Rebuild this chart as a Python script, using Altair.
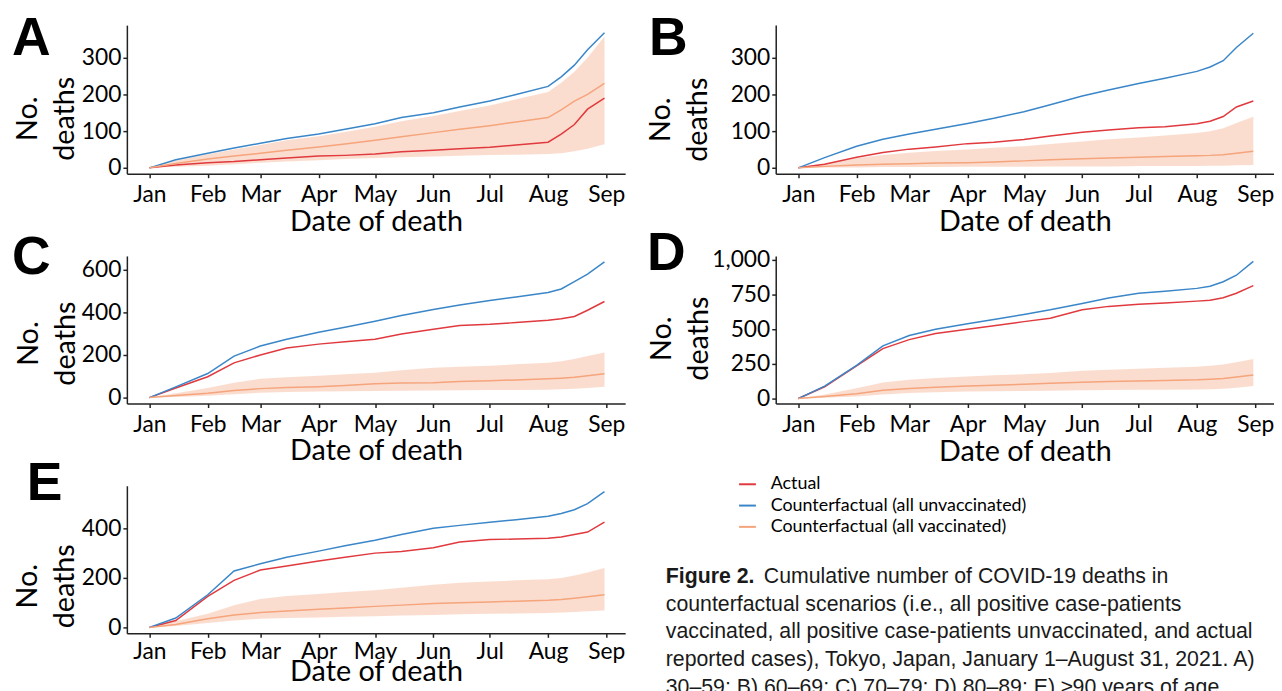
import altair as alt
import pandas as pd

# ---------------- data ----------------
dates = ["2021-01-01", "2021-01-15", "2021-02-01", "2021-02-15", "2021-03-01",
         "2021-03-15", "2021-04-01", "2021-04-15", "2021-05-01", "2021-05-15",
         "2021-06-01", "2021-06-15", "2021-07-01", "2021-07-15", "2021-08-01",
         "2021-08-08", "2021-08-15", "2021-08-22", "2021-08-31"]

series_names = ["Actual", "Counterfactual (all unvaccinated)", "Counterfactual (all vaccinated)"]
series_colors = ["#e0393e", "#3a86c8", "#f5a47c"]

# Panel A (30-59)
a_unvacc = [0, 22, 40, 54, 67, 80, 92, 105, 120, 137, 150, 166, 182, 200, 222, 248, 280, 322, 368]
a_actual = [0, 8, 14, 17, 22, 27, 32, 34, 38, 44, 48, 52, 56, 62, 70, 92, 118, 160, 190]
a_vacc = [0, 12, 24, 32, 40, 48, 57, 65, 75, 85, 96, 105, 115, 125, 137, 158, 182, 200, 230]
a_lo = [0, 3, 6, 10, 14, 17, 21, 24, 27, 29, 31, 33, 35, 36, 38, 40, 45, 52, 64]
a_hi = [0, 20, 37, 50, 62, 75, 86, 98, 112, 127, 141, 155, 170, 187, 207, 232, 262, 300, 358]

# Panel B (60-69)
b_unvacc = [0, 28, 59, 78, 92, 105, 121, 135, 153, 172, 196, 212, 230, 244, 263, 275, 292, 328, 367]
b_actual = [0, 10, 29, 42, 51, 57, 66, 70, 77, 87, 97, 103, 109, 112, 120, 127, 140, 166, 182]
b_vacc = [0, 4, 8, 10, 11, 13, 14, 16, 19, 22, 25, 27, 29, 31, 33, 34, 36, 40, 45]
b_lo = [0, 1, 1, 2, 2, 2, 3, 3, 3, 4, 4, 4, 5, 5, 5, 6, 6, 7, 8]
b_hi = [0, 12, 27, 35, 41, 46, 50, 55, 59, 65, 72, 78, 83, 88, 95, 100, 108, 122, 139]

# Panel C (70-79)
c_unvacc = [0, 50, 113, 195, 242, 274, 307, 330, 358, 385, 414, 435, 456, 472, 493, 510, 544, 580, 637]
c_actual = [0, 45, 98, 163, 200, 233, 251, 262, 274, 298, 321, 338, 344, 352, 363, 370, 381, 410, 451]
c_vacc = [0, 10, 20, 33, 42, 47, 51, 57, 65, 68, 70, 75, 79, 83, 88, 91, 95, 103, 112]
c_lo = [0, 3, 8, 16, 23, 26, 28, 30, 31, 32, 33, 34, 35, 36, 37, 39, 41, 45, 51]
c_hi = [0, 20, 45, 70, 88, 96, 102, 110, 116, 128, 140, 145, 149, 156, 163, 170, 181, 195, 212]

# Panel D (80-89)
d_unvacc = [0, 90, 240, 380, 455, 500, 540, 570, 607, 640, 686, 725, 760, 775, 795, 810, 843, 890, 990]
d_actual = [0, 85, 235, 360, 425, 470, 500, 525, 555, 580, 640, 665, 680, 690, 703, 710, 728, 760, 815]
d_vacc = [0, 15, 35, 60, 72, 82, 90, 96, 103, 110, 118, 123, 127, 131, 135, 140, 145, 155, 170]
d_lo = [0, 5, 15, 30, 40, 45, 50, 53, 55, 57, 60, 62, 63, 64, 65, 67, 70, 78, 90]
d_hi = [0, 30, 75, 115, 135, 148, 160, 168, 175, 185, 200, 208, 215, 222, 230, 237, 245, 262, 285]

# Panel E (>=90)
e_unvacc = [0, 38, 132, 228, 257, 283, 308, 330, 352, 375, 400, 412, 425, 435, 449, 460, 475, 500, 548]
e_actual = [0, 28, 125, 190, 232, 248, 268, 283, 300, 307, 322, 345, 355, 357, 360, 365, 375, 385, 425]
e_vacc = [0, 12, 35, 50, 60, 66, 73, 78, 85, 90, 97, 100, 103, 106, 110, 113, 118, 124, 132]
e_lo = [0, 6, 18, 28, 35, 38, 40, 43, 45, 48, 50, 53, 55, 56, 58, 60, 62, 65, 68]
e_hi = [0, 25, 55, 90, 115, 127, 135, 143, 150, 160, 172, 180, 185, 190, 195, 200, 210, 222, 240]

month_ticks = [alt.DateTime(year=2021, month=m, date=1, utc=True) for m in range(1, 10)]
x_domain = [alt.DateTime(year=2020, month=12, date=20, utc=True),
            alt.DateTime(year=2021, month=9, date=11, utc=True)]

caption_head = "Figure 2."
caption_first = "Cumulative number of COVID-19 deaths in"
caption_rest = ["counterfactual scenarios (i.e., all positive case-patients",
                "vaccinated, all positive case-patients unvaccinated, and actual",
                "reported cases), Tokyo, Japan, January 1\u2013August 31, 2021. A)",
                "30\u201359; B) 60\u201369; C) 70\u201379; D) 80\u201389; E) \u226590 years of age."]

W = 503
FONT = "Lato"


def panel(letter, actual, unvacc, vacc, lo, hi, ydomain, yticks, yfmt,
          ytitle_x, ytitle_y, xtitle_y, xlabpad, letter_x, letter_y, h, legend=False):
    df_lines = pd.DataFrame({
        "date": dates * 3,
        "deaths": actual + unvacc + vacc,
        "series": [n for n in series_names for _ in dates],
    })
    df_band = pd.DataFrame({"date": dates, "lo": lo, "hi": hi})

    xenc = alt.X("date:T",
                 scale=alt.Scale(type="utc", domain=x_domain),
                 axis=alt.Axis(values=month_ticks, labelExpr="utcFormat(datum.value, '%b')",
                               title="Date of death", titleY=xtitle_y,
                               titleBaseline="alphabetic", labelPadding=xlabpad,
                               labelOverlap=False, labelFlush=False))
    ysc = alt.Scale(domain=ydomain, nice=False, zero=False)
    yax = alt.Axis(values=yticks, format=yfmt, title=["No.", "deaths"],
                   titleX=ytitle_x, titleY=ytitle_y, titleAngle=270,
                   titleAlign="center", titleBaseline="middle", titleLineHeight=37,
                   labelPadding=2)

    band = alt.Chart(df_band).mark_area(color="#f4a582", opacity=0.38).encode(
        x=xenc, y=alt.Y("lo:Q", scale=ysc, axis=yax), y2="hi:Q")

    if legend:
        leg = alt.Legend(orient="none", legendX=617, legendY=-11, title=None,
                         symbolType="stroke", symbolSize=289, symbolStrokeWidth=2,
                         labelFont=FONT, labelFontSize=18, labelColor="black",
                         labelOffset=14, rowPadding=2.5, padding=0, labelLimit=0)
    else:
        leg = None
    lines = alt.Chart(df_lines).mark_line(strokeWidth=1.5).encode(
        x=xenc, y=alt.Y("deaths:Q", scale=ysc, axis=yax),
        color=alt.Color("series:N", scale=alt.Scale(domain=series_names, range=series_colors),
                        sort=series_names, legend=leg))

    lab = alt.Chart(pd.DataFrame({"t": [letter]})).mark_text(
        font="Liberation Sans", fontSize=54, fontWeight="bold", align="left",
        baseline="alphabetic", color="black").encode(
        text="t:N", x=alt.value(letter_x), y=alt.value(letter_y))

    return alt.layer(band, lines, lab).properties(width=W, height=h)


pA = panel("A", a_actual, a_unvacc, a_vacc, a_lo, a_hi, [-16, 389], [0, 100, 200, 300], "d",
           -100, 94, 57, 6, -116, 30, 150)
pB = panel("B", b_actual, b_unvacc, b_vacc, b_lo, b_hi, [-16, 389], [0, 100, 200, 300], "d",
           -116, 95, 57, 6, -128, 30, 150)
pC = panel("C", c_actual, c_unvacc, c_vacc, c_lo, c_hi, [-28, 665], [0, 200, 400, 600], "d",
           -99, 88, 56, 6, -116, 18, 149)
pD = panel("D", d_actual, d_unvacc, d_vacc, d_lo, d_hi, [-36, 1029], [0, 250, 500, 750, 1000], ",d",
           -115, 83, 57, 6, -130, 14, 149)
pE = panel("E", e_actual, e_unvacc, e_vacc, e_lo, e_hi, [-24, 572], [0, 200, 400], "d",
           -100, 101, 48, 3, -101, 14, 149, legend=True)

cap_df1 = pd.DataFrame({"t": [caption_head]})
cap_df2 = pd.DataFrame({"t": [caption_first]})
cap_head = alt.Chart(cap_df1).mark_text(font="Liberation Sans", fontSize=21.5, fontWeight="bold",
                                        align="left", baseline="alphabetic", color="#1a1a1a").encode(
    text="t:N", x=alt.value(-111), y=alt.value(98))
cap_l1 = alt.Chart(cap_df2).mark_text(font="Liberation Sans", fontSize=21.5,
                                      align="left", baseline="alphabetic", color="#1a1a1a").encode(
    text="t:N", x=alt.value(-12), y=alt.value(98))
cap_rest = alt.Chart(pd.DataFrame({"k": [0]})).mark_text(
    font="Liberation Sans", fontSize=21.5, align="left", baseline="alphabetic",
    color="#1a1a1a", lineHeight=28).encode(
    text=alt.value(caption_rest), x=alt.value(-111), y=alt.value(126))
caption = alt.layer(cap_head, cap_l1, cap_rest).properties(width=W, height=149)

chart = alt.concat(pA, pB, pC, pD, pE, caption, columns=2,
                   spacing={"row": 83, "column": 152}, bounds="flush").resolve_scale(
    x="independent", y="independent", color="independent"
).properties(
    padding={"left": 4, "top": 1, "right": 0, "bottom": 0}
).configure_view(stroke=None).configure_axis(
    grid=False, domainColor="#222222", tickColor="#222222", domainWidth=1.5, tickWidth=1.5,
    tickSize=4, labelFont=FONT, labelFontSize=23, labelColor="black",
    titleFont=FONT, titleFontSize=29, titleFontWeight="normal", titleColor="black"
)

chart.save("out.html", embed_options={"renderer": "svg", "actions": False})
